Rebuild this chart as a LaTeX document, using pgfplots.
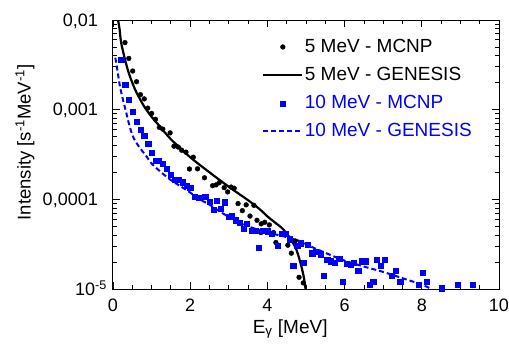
\documentclass[border=0pt]{standalone}
\usepackage{fontspec}
\setmainfont{Liberation Sans}
\usepackage{pgfplots}
\pgfplotsset{compat=1.18}
\pgfplotsset{
 markleg/.style={legend image code/.code={\draw[##1] plot coordinates {(20pt,0pt)};}},
 lineleg/.style={legend image code/.code={\draw[##1] (0pt,0pt) -- (39pt,0pt);}},
}
\begin{document}
\fontsize{18}{21}\selectfont
\begin{tikzpicture}
\begin{axis}[name=ax, scale only axis, width=386pt, height=269pt,
 xmin=0, xmax=10, ymin=1e-5, ymax=1e-2, ymode=log,
 xtick={0,2,4,6,8,10}, xticklabels={0,2,4,6,8,10},
 minor x tick num=3,
 ytick={1e-5,1e-4,1e-3,1e-2},
 yticklabels={10\textsuperscript{-5}\hspace*{-9pt}, {0,0001}, {0,001}, {0,01}},
 tick label style={font=\fontsize{18}{21}\selectfont},
 xticklabel style={anchor=base, inner sep=0pt, yshift=-22.7pt},
 yticklabel style={anchor=base east, inner sep=0pt, xshift=-15pt, yshift=-6.3pt},
 major tick length=7pt, minor tick length=4pt,
 every tick/.style={black, line width=0.8pt},
 axis line style={line width=1pt},
 xlabel={E\textsubscript{γ} [MeV]},
 ylabel={Intensity [s\textsuperscript{-1}MeV\textsuperscript{-1}]},
 every axis x label/.style={at={(axis description cs:0.459,0)}, yshift=-44pt, anchor=base, font=\fontsize{19}{22}\selectfont},
 every axis y label/.style={at={(axis description cs:0,0.545)}, xshift=-88pt, rotate=90, anchor=center, font=\fontsize{18.5}{22}\selectfont},
 legend style={draw=none, fill=none, at={(axis description cs:0.377,0.945)}, anchor=north west, legend cell align=left, row sep=8.2pt, font=\fontsize{19}{22}\selectfont},
]
\addplot[only marks, mark=*, mark size=2.4pt, black, markleg] coordinates {
(0.31,5.60e-3) (0.41,3.73e-3) (0.51,2.70e-3) (0.61,2.05e-3) (0.71,1.47e-3)
(0.81,1.32e-3) (0.90,1.04e-3) (1.00,9.08e-4) (1.10,7.82e-4) (1.20,6.34e-4)
(1.29,6.07e-4) (1.48,5.51e-4) (1.58,3.91e-4) (1.69,3.83e-4) (1.78,3.53e-4)
(1.89,3.36e-4) (1.98,2.18e-4) (2.08,2.95e-4) (2.19,2.19e-4) (2.37,1.74e-4)
(2.58,1.42e-4) (2.67,1.45e-4) (2.75,1.53e-4) (2.88,1.35e-4) (2.97,1.21e-4)
(3.06,1.37e-4) (3.14,1.33e-4) (3.24,8.97e-5) (3.35,7.48e-5) (3.45,8.68e-5)
(3.55,6.51e-5) (3.65,8.58e-5) (3.73,5.84e-5) (3.83,4.26e-5) (3.84,5.33e-5)
(3.93,5.55e-5) (4.05,5.19e-5) (4.16,4.26e-5) (4.22,3.30e-5) (4.53,3.08e-5)
(4.62,2.51e-5) (4.72,3.44e-5) (4.82,1.35e-5) (4.93,1.17e-5)
};
\addlegendentry{5 MeV - MCNP}
\addplot[black, line width=2.2pt, smooth, lineleg] coordinates {
(0.13,1.0e-2) (0.17,7.94e-3) (0.21,5.62e-3) (0.3,3.80e-3) (0.4,2.63e-3)
(0.5,2.00e-3) (0.6,1.58e-3) (0.8,1.10e-3) (1.0,8.32e-4) (1.2,6.61e-4)
(1.5,4.68e-4) (2.0,2.95e-4) (2.5,2.00e-4) (3.0,1.38e-4) (3.5,9.77e-5)
(3.8,7.76e-5) (4.0,6.46e-5) (4.2,5.50e-5) (4.4,4.68e-5) (4.6,3.63e-5)
(4.75,2.75e-5) (4.85,2.00e-5) (4.93,1.45e-5) (4.98,1.07e-5) (5.0,8.9e-6)
};
\addlegendentry{5 MeV - GENESIS}
\addplot[only marks, mark=square*, mark size=2.6pt, blue, markleg] coordinates {
(0.215,3.60e-3) (0.316,1.90e-3) (0.415,1.29e-3) (0.51,9.55e-4) (0.614,7.41e-4)
(0.718,6.00e-4) (0.81,5.08e-4) (0.914,4.16e-4) (1.00,3.33e-4) (1.096,2.67e-4)
(1.19,2.67e-4) (1.29,2.51e-4) (1.39,2.19e-4) (1.49,1.87e-4) (1.61,1.67e-4)
(1.71,1.67e-4) (1.81,1.55e-4) (1.90,1.41e-4) (2.00,1.35e-4) (2.12,1.08e-4)
(2.21,1.04e-4) (2.39,1.08e-4) (2.50,9.38e-5) (2.60,7.74e-5) (2.69,9.75e-5)
(2.80,7.94e-5) (2.89,9.27e-5) (2.99,6.34e-5) (3.08,6.52e-5) (3.17,5.85e-5)
(3.28,5.51e-5) (3.39,4.74e-5) (3.47,5.38e-5) (3.60,4.45e-5) (3.70,4.50e-5)
(3.77,2.90e-5) (3.89,4.45e-5) (4.00,4.41e-5) (4.11,4.17e-5) (4.26,3.01e-5)
(4.37,4.16e-5) (4.46,4.16e-5) (4.57,3.60e-5) (4.67,1.82e-5) (4.77,3.01e-5)
(4.87,3.24e-5) (4.95,1.95e-5) (5.05,3.12e-5) (5.16,2.51e-5) (5.26,2.61e-5)
(5.38,2.45e-5) (5.45,1.41e-5) (5.55,2.13e-5) (5.65,2.04e-5) (5.75,1.95e-5)
(5.86,2.19e-5) (5.95,1.20e-5) (6.05,1.92e-5) (6.15,1.85e-5) (6.24,1.97e-5)
(6.35,1.60e-5) (6.44,2.04e-5) (6.54,2.04e-5) (6.65,1.11e-5) (6.74,1.20e-5)
(6.84,2.12e-5) (6.94,1.82e-5) (7.03,2.12e-5) (7.23,1.41e-5) (7.33,1.61e-5)
(7.44,1.20e-5) (7.93,1.12e-5) (8.02,1.51e-5) (8.13,1.20e-5) (8.52,1.02e-5)
(8.92,1.11e-5) (9.31,1.11e-5)
};
\addlegendentry{\textcolor{blue}{10 MeV - MCNP}}
\addplot[blue, line width=2pt, dash pattern=on 5pt off 3pt, smooth, lineleg] coordinates {
(0.06,3.80e-3) (0.1,3.02e-3) (0.18,1.82e-3) (0.27,1.23e-3) (0.33,9.77e-4)
(0.44,6.31e-4) (0.54,4.79e-4) (0.7,3.72e-4) (0.85,3.09e-4) (1.0,2.51e-4)
(1.25,2.00e-4) (1.5,1.64e-4) (1.75,1.40e-4) (2.0,1.19e-4) (2.25,1.0e-4)
(2.5,8.71e-5) (2.75,7.41e-5) (3.0,6.38e-5) (3.5,5.01e-5) (4.0,4.27e-5)
(4.4,3.89e-5) (4.8,3.47e-5) (5.2,2.88e-5) (5.6,2.43e-5) (6.0,2.07e-5)
(6.5,1.78e-5) (7.0,1.55e-5) (7.5,1.32e-5) (8.0,1.12e-5) (8.25,1.0e-5)
};
\addlegendentry{\textcolor{blue}{10 MeV - GENESIS}}
\end{axis}
\pgfresetboundingbox
\path ([shift={(-113pt,-60pt)}]ax.south west) rectangle ([shift={(10pt,20pt)}]ax.north east);
\end{tikzpicture}
\end{document}
